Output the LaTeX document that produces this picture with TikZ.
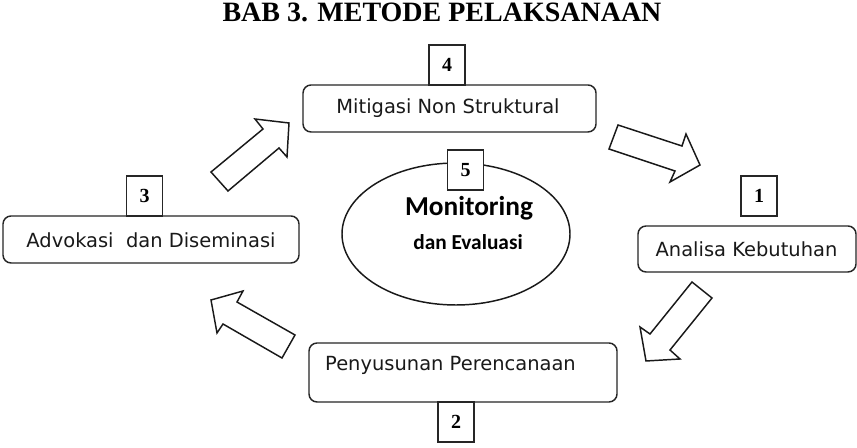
\documentclass[tikz,border=0pt]{standalone}
\usepackage{fontspec}
\setmainfont{Liberation Serif}
\newfontfamily\labelfont{DejaVu Sans}
\newfontfamily\calfont{Carlito}
\usetikzlibrary{shapes.geometric}
\begin{document}
\begin{tikzpicture}[x=0.75pt,y=-0.75pt,
  stage/.style={draw=black!85,line width=1.1pt,rounded corners=6pt,fill=white,inner sep=0pt},
  numbox/.style={draw=black!85,line width=1pt,fill=white,inner sep=0pt,
    minimum width=27pt,minimum height=30pt,font=\fontsize{15}{15}\selectfont\bfseries},
  lbl/.style={font=\labelfont\fontsize{14.6}{16}\selectfont,text=black!90,inner sep=0pt},
  blockarrow/.style={draw=black!90,line width=1.1pt,fill=white,line join=miter}]
\useasboundingbox (0,0) rectangle (857,448);
\fill[white] (0,0) rectangle (857,448);

% heading
\node[font=\fontsize{21}{22}\selectfont\bfseries,anchor=base] (title) at (442,21.5) {BAB 3. METODE PELAKSANAAN};

% centre: monitoring ellipse
\node[ellipse,draw=black!90,line width=1.1pt,minimum width=171pt,minimum height=106.5pt,inner sep=0pt] (mon) at (456,234) {};
\node[numbox] (n5) at (465.5,170) {5};
\node[font=\calfont\bfseries\fontsize{20.5}{22}\selectfont,inner sep=0pt,anchor=base] (montxt) at (469,216) {Monitoring};
\node[font=\calfont\bfseries\fontsize{16}{18}\selectfont,inner sep=0pt,anchor=base] (evtxt) at (468,250) {dan Evaluasi};

% stage 4
\node[stage,minimum width=219.75pt,minimum height=35.25pt] (mit) at (449.5,108.5) {};
\node[lbl] (mittxt) at (448,108) {Mitigasi Non Struktural};
\node[numbox] (n4) at (447,65) {4};

% stage 3
\node[stage,minimum width=222pt,minimum height=35.25pt] (adv) at (151,239.5) {};
\node[lbl] (advtxt) at (151,240) {Advokasi\ \ dan Diseminasi};
\node[numbox] (n3) at (144.5,196) {3};

% stage 1
\node[stage,minimum width=163.5pt,minimum height=34.5pt] (ana) at (747,249) {};
\node[lbl] (anatxt) at (746.5,249) {Analisa Kebutuhan};
\node[numbox] (n1) at (759,196) {1};

% stage 2
\node[stage,minimum width=231pt,minimum height=44.25pt] (pen) at (463,372.5) {};
\node[lbl] (pentxt) at (450.5,365) {Penyusunan Perencanaan};
\node[numbox] (n2) at (456,422) {2};

% block arrows of the cycle
\draw[blockarrow] (211,172) -- (263,129) -- (255,119) -- (289,123) -- (287,157) -- (279,148) -- (228,191) -- cycle;
\draw[blockarrow] (618,125) -- (682,146) -- (686,134) -- (700,165) -- (670,182) -- (675,171) -- (609,149) -- cycle;
\draw[blockarrow] (692,282) -- (712,298) -- (670,350) -- (680,359) -- (646,361) -- (640,327) -- (650,334) -- cycle;
\draw[blockarrow] (295,335) -- (282,358) -- (223,324) -- (217,333) -- (211,300) -- (243,291) -- (237,302) -- cycle;
\end{tikzpicture}
\end{document}
